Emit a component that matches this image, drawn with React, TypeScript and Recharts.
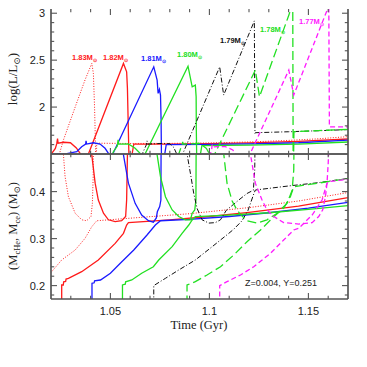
import React from 'react';
import { LineChart, Line, XAxis, YAxis } from 'recharts';

type Pt = [number, number];

// ---- axes ----
const xDomain: [number, number] = [1.02, 1.17];
const xTicks = [1.03, 1.04, 1.05, 1.06, 1.07, 1.08, 1.09, 1.1, 1.11, 1.12, 1.13, 1.14, 1.15, 1.16];
const xMajor = [1.05, 1.1, 1.15];

const lumDomain: [number, number] = [1.5, 3.045];
const lumTicks = [1.6, 1.7, 1.8, 1.9, 2, 2.1, 2.2, 2.3, 2.4, 2.5, 2.6, 2.7, 2.8, 2.9, 3];
const lumMajor = [2, 2.5, 3];

const massDomain: [number, number] = [0.1715, 0.48];
const massTicks = [0.18, 0.2, 0.22, 0.24, 0.26, 0.28, 0.3, 0.32, 0.34, 0.36, 0.38, 0.4, 0.42, 0.44, 0.46];
const massMajor = [0.2, 0.3, 0.4];

const masses = ['1.83', '1.82', '1.81', '1.80', '1.79', '1.78', '1.77'];

// ---- log(L/Lsun) vs time ----
const lum183: Pt[] = [
  [1.0234, 1.44], [1.0263, 1.65], [1.0322, 2.0], [1.0372, 2.29], [1.0406, 2.465], [1.0414, 2.36],
  [1.042, 2.0], [1.0424, 1.65], [1.0426, 1.45], [1.0429, 1.45], [1.0431, 1.615], [1.06, 1.612],
  [1.08, 1.613], [1.1, 1.618], [1.12, 1.628], [1.14, 1.645], [1.155, 1.662], [1.17, 1.685],
];
const lum182: Pt[] = [
  [1.02, 1.49], [1.0204, 1.507], [1.0222, 1.56], [1.0229, 1.61], [1.0233, 1.665], [1.0236, 1.615],
  [1.0263, 1.625], [1.0298, 1.62], [1.0328, 1.565], [1.0347, 1.507], [1.0358, 1.46], [1.038, 1.46],
  [1.0389, 1.5], [1.0566, 2.465], [1.0582, 2.376], [1.0586, 2.2], [1.0591, 1.72], [1.0594, 1.44],
  [1.0605, 1.44], [1.0618, 1.605], [1.08, 1.605], [1.1, 1.61], [1.12, 1.618], [1.145, 1.635], [1.17, 1.66],
];
const lum181: Pt[] = [
  [1.02, 1.498], [1.028, 1.505], [1.033, 1.524], [1.0355, 1.578], [1.0375, 1.605], [1.0377, 1.64],
  [1.038, 1.606], [1.0414, 1.62], [1.0448, 1.606], [1.0473, 1.561], [1.049, 1.507], [1.0498, 1.47],
  [1.0508, 1.48], [1.0512, 1.5], [1.0719, 2.429], [1.0736, 2.287], [1.0741, 2.146], [1.07475, 2.188],
  [1.0753, 2.128], [1.0756, 1.86], [1.0758, 1.44], [1.077, 1.44], [1.0782, 1.6], [1.1, 1.603],
  [1.12, 1.608], [1.145, 1.62], [1.17, 1.648],
];
const lum180: Pt[] = [
  [1.051, 1.49], [1.0515, 1.524], [1.0535, 1.585], [1.0539, 1.65], [1.0542, 1.606], [1.0591, 1.608],
  [1.0625, 1.561], [1.065, 1.507], [1.066, 1.46], [1.0668, 1.46], [1.0675, 1.5], [1.0892, 2.436],
  [1.0913, 2.216], [1.0929, 2.234], [1.0933, 2.11], [1.0934, 1.75], [1.0936, 1.44], [1.095, 1.44],
  [1.0962, 1.59], [1.12, 1.595], [1.145, 1.605], [1.17, 1.628],
];
const lum179: Pt[] = [
  [1.0655, 1.47], [1.0665, 1.52], [1.0682, 1.6], [1.0685, 1.64], [1.0688, 1.605], [1.075, 1.612],
  [1.08, 1.61], [1.082, 1.57], [1.0835, 1.5], [1.0845, 1.47], [1.0857, 1.47], [1.0865, 1.5],
  [1.1052, 2.429], [1.1072, 2.128], [1.1227, 2.918], [1.123, 1.72], [1.1232, 1.727], [1.14, 1.737],
  [1.155, 1.748], [1.17, 1.76],
];
const lum178: Pt[] = [
  [1.084, 1.47], [1.085, 1.53], [1.0862, 1.6], [1.0865, 1.63], [1.0868, 1.605], [1.095, 1.612],
  [1.0985, 1.56], [1.1, 1.5], [1.101, 1.46], [1.102, 1.47], [1.1027, 1.5], [1.1232, 2.394],
  [1.1253, 2.11], [1.1401, 2.979], [1.1421, 3.1], [1.1423, 1.44], [1.1425, 1.44], [1.1427, 1.737],
  [1.155, 1.75], [1.17, 1.762],
];
const lum177: Pt[] = [
  [1.1, 1.47], [1.1006, 1.507], [1.1012, 1.56], [1.1014, 1.6], [1.1017, 1.575], [1.1039, 1.578],
  [1.1081, 1.578], [1.1118, 1.543], [1.1131, 1.507], [1.114, 1.47], [1.1192, 1.44], [1.1401, 2.394],
  [1.1426, 2.128], [1.1594, 3.03], [1.1603, 3.1], [1.1606, 1.79], [1.165, 1.79], [1.17, 1.79],
];

// ---- M_ce (base of convective envelope) vs time ----
const mce183: Pt[] = [
  [1.0261, 0.49], [1.0263, 0.478], [1.0271, 0.432], [1.0288, 0.389], [1.0322, 0.354], [1.0355, 0.34],
  [1.038, 0.338], [1.0402, 0.347], [1.0409, 0.375], [1.0413, 0.432], [1.0414, 0.49],
];
const mce182: Pt[] = [
  [1.0404, 0.49], [1.0406, 0.478], [1.0423, 0.418], [1.0439, 0.382], [1.0465, 0.354], [1.049, 0.34],
  [1.0524, 0.336], [1.0557, 0.338], [1.0577, 0.347], [1.0582, 0.382], [1.0586, 0.478], [1.0587, 0.49],
];
const mce181: Pt[] = [
  [1.0564, 0.49], [1.0566, 0.478], [1.0591, 0.418], [1.0625, 0.375], [1.0658, 0.35], [1.0692, 0.338],
  [1.0717, 0.335], [1.0732, 0.344], [1.0737, 0.357], [1.0749, 0.368], [1.0755, 0.382], [1.0756, 0.49],
];
const mce180: Pt[] = [
  [1.0735, 0.49], [1.0736, 0.478], [1.0753, 0.432], [1.0778, 0.389], [1.0812, 0.361], [1.0845, 0.347],
  [1.0879, 0.34], [1.0904, 0.34], [1.0913, 0.354], [1.0926, 0.361], [1.0932, 0.382], [1.0933, 0.49],
];
const mce179: Pt[] = [
  [1.0887, 0.49], [1.0888, 0.478], [1.0904, 0.439], [1.0921, 0.396], [1.0938, 0.364], [1.0963, 0.34],
  [1.0997, 0.333], [1.103, 0.334], [1.1056, 0.34], [1.1085, 0.36], [1.1148, 0.382], [1.119, 0.396],
  [1.1222, 0.403], [1.1229, 0.446], [1.123, 0.49],
];
const mce178: Pt[] = [
  [1.1072, 0.49], [1.1073, 0.478], [1.1089, 0.418], [1.1115, 0.38], [1.1135, 0.364], [1.1155, 0.352],
  [1.119, 0.338], [1.1241, 0.333], [1.1291, 0.34], [1.1342, 0.354], [1.1392, 0.375], [1.1418, 0.403],
  [1.1426, 0.446], [1.1427, 0.49],
];
const mce177: Pt[] = [
  [1.1207, 0.49], [1.1208, 0.478], [1.1232, 0.418], [1.1266, 0.382], [1.1291, 0.361], [1.1325, 0.347],
  [1.1375, 0.334], [1.1451, 0.331], [1.1519, 0.334], [1.1552, 0.347], [1.1572, 0.361], [1.1586, 0.389],
  [1.1594, 0.418], [1.16, 0.46], [1.1603, 0.49],
];

// ---- M_cHe (helium core mass) vs time ----
const mche183: Pt[] = [
  [1.02, 0.228], [1.0254, 0.2545], [1.0322, 0.2757], [1.0372, 0.3006], [1.0406, 0.3253], [1.0431, 0.338],
  [1.068, 0.346], [1.09, 0.353], [1.12, 0.366], [1.145, 0.38], [1.17, 0.398],
];
const mche182: Pt[] = [
  [1.0254, 0.16], [1.0254, 0.2013], [1.0262, 0.2013], [1.0264, 0.208], [1.0274, 0.209], [1.0276, 0.214],
  [1.0288, 0.2155], [1.0355, 0.2296], [1.0439, 0.2545], [1.0524, 0.2899], [1.0566, 0.3112], [1.0582, 0.3289],
  [1.0591, 0.334], [1.08, 0.34], [1.1, 0.347], [1.12, 0.356], [1.145, 0.369], [1.17, 0.387],
];
const mche181: Pt[] = [
  [1.0407, 0.16], [1.0407, 0.205], [1.0418, 0.206], [1.042, 0.21], [1.045, 0.2119], [1.05, 0.2262],
  [1.055, 0.2474], [1.0618, 0.2757], [1.0685, 0.3077], [1.0727, 0.3289], [1.0753, 0.338], [1.09, 0.341],
  [1.11, 0.347], [1.13, 0.355], [1.15, 0.365], [1.17, 0.377],
];
const mche180: Pt[] = [
  [1.0561, 0.16], [1.0561, 0.2013], [1.0575, 0.203], [1.0577, 0.208], [1.0608, 0.212], [1.0658, 0.2262],
  [1.0717, 0.2402], [1.0744, 0.2545], [1.0812, 0.2828], [1.0862, 0.3112], [1.0896, 0.3289], [1.0913, 0.3396],
  [1.0929, 0.3466], [1.11, 0.35], [1.13, 0.355], [1.15, 0.362], [1.17, 0.37],
];
const mche179: Pt[] = [
  [1.0719, 0.16], [1.0719, 0.2], [1.0778, 0.2155], [1.0845, 0.2332], [1.0929, 0.2545], [1.1014, 0.2828],
  [1.1098, 0.3112], [1.1123, 0.32], [1.1165, 0.338], [1.1195, 0.36], [1.1224, 0.395], [1.1232, 0.4034],
  [1.14, 0.412], [1.155, 0.419], [1.17, 0.428],
];
const mche178: Pt[] = [
  [1.0887, 0.16], [1.0887, 0.2013], [1.0929, 0.2084], [1.0988, 0.2226], [1.1056, 0.2402], [1.1123, 0.2651],
  [1.119, 0.2934], [1.1258, 0.3183], [1.1325, 0.3466], [1.1375, 0.3644], [1.1409, 0.3891], [1.1426, 0.4104],
  [1.155, 0.418], [1.17, 0.428],
];
const mche177: Pt[] = [
  [1.1052, 0.16], [1.1052, 0.2], [1.1089, 0.2084], [1.1157, 0.2226], [1.1224, 0.2402], [1.1308, 0.2686],
  [1.1375, 0.2969], [1.1426, 0.3183], [1.1451, 0.322], [1.1519, 0.3502], [1.1569, 0.3821], [1.1594, 0.4177],
  [1.1603, 0.4214], [1.17, 0.426],
];

const lumSeries = [lum183, lum182, lum181, lum180, lum179, lum178, lum177];
const mceSeries = [mce183, mce182, mce181, mce180, mce179, mce178, mce177];
const mcheSeries = [mche183, mche182, mche181, mche180, mche179, mche178, mche177];

// line styles, one per mass
const styles = [
  { color: '#ff1a1a', dash: '1 1.6', width: 1 },
  { color: '#ff1a1a', dash: undefined, width: 1.3 },
  { color: '#1a1aff', dash: undefined, width: 1.3 },
  { color: '#22e022', dash: undefined, width: 1.3 },
  { color: '#111111', dash: '5 2 1 2', width: 1 },
  { color: '#22e022', dash: '9 4', width: 1.3 },
  { color: '#ff1aff', dash: '5 3', width: 1.3 },
];

// where the mass labels sit (left x, baseline y)
const labelPos = [
  [72, 60], [103, 60], [141, 61], [177, 57], [220, 43], [260, 32], [299, 24],
];

const W = 367;
const H = 367;
const AXIS = '#555';
const LEFT = 51;
const RIGHT = 19;
const SPLIT = 154;
const TOP = 9;
const BOTTOM = 299;

const rows = (pts: Pt[]) => pts.map(([t, v]) => ({ t, v }));

function isMajor(v: number, majors: number[]) {
  return majors.some((m) => Math.abs(m - v) < 1e-6);
}

function tickFor(side: 'left' | 'right' | 'top' | 'bottom', majors: number[], label: boolean) {
  return (props: any) => {
    const { x, y, payload } = props;
    const v = payload.value as number;
    const big = isMajor(v, majors);
    const len = big ? 6 : 3.2;
    let x2 = x;
    let y2 = y;
    if (side === 'left') x2 = x + len;
    if (side === 'right') x2 = x - len;
    if (side === 'top') y2 = y + len;
    if (side === 'bottom') y2 = y - len;
    return (
      <g>
        <line x1={x} y1={y} x2={x2} y2={y2} stroke={AXIS} strokeWidth={1.1} />
        {label && big && side === 'left' && (
          <text x={x - 6} y={y} dy="0.36em" textAnchor="end" fontSize={11} fill="#222"
            fontFamily="'Liberation Sans', Arial, sans-serif">{String(v)}</text>
        )}
        {label && big && side === 'bottom' && (
          <text x={x} y={y + 16} textAnchor="middle" fontSize={11} fill="#222"
            fontFamily="'Liberation Sans', Arial, sans-serif">{String(v)}</text>
        )}
      </g>
    );
  };
}

function Panel({ kind }: { kind: 'lum' | 'mass' }) {
  const isTop = kind === 'lum';
  // the axes themselves take up the space round the plot
  const topH = isTop ? TOP : SPLIT;
  const bottomH = isTop ? H - SPLIT : H - BOTTOM;
  const yDomain = isTop ? lumDomain : massDomain;
  const yTicks = isTop ? lumTicks : massTicks;
  const yMajor = isTop ? lumMajor : massMajor;
  const line = { stroke: AXIS, strokeWidth: 1.7 };

  const lines: React.ReactNode[] = [];
  styles.forEach((s, i) => {
    const sets = isTop ? [lumSeries[i]] : [mceSeries[i], mcheSeries[i]];
    sets.forEach((pts, j) => {
      lines.push(
        <Line
          key={`${kind}-${i}-${j}`}
          data={rows(pts)}
          dataKey="v"
          xAxisId="b"
          yAxisId="l"
          type="linear"
          stroke={s.color}
          strokeWidth={s.width}
          strokeDasharray={s.dash}
          dot={false}
          activeDot={false}
          isAnimationActive={false}
        />
      );
    });
  });

  return (
    <div style={{ position: 'absolute', left: 0, top: 0 }}>
      <LineChart width={W} height={H} margin={{ top: 0, right: 0, bottom: 0, left: 0 }}>
        <XAxis xAxisId="b" dataKey="t" type="number" domain={xDomain} allowDataOverflow ticks={xTicks}
          interval={0} height={bottomH} tickSize={0} tickMargin={0} tickLine={false} axisLine={line}
          tick={tickFor('bottom', xMajor, !isTop)} />
        <XAxis xAxisId="t" orientation="top" dataKey="t" type="number" domain={xDomain} allowDataOverflow
          ticks={xTicks} interval={0} height={topH} tickSize={0} tickMargin={0} tickLine={false}
          axisLine={isTop ? false : line} tick={tickFor('top', xMajor, false)} />
        <YAxis yAxisId="l" dataKey="v" type="number" domain={yDomain} allowDataOverflow ticks={yTicks}
          interval={0} width={LEFT} tickSize={0} tickMargin={0} tickLine={false} axisLine={line}
          tick={tickFor('left', yMajor, true)} />
        <YAxis yAxisId="r" orientation="right" dataKey="v" type="number" domain={yDomain} allowDataOverflow
          ticks={yTicks} interval={0} width={RIGHT} tickSize={0} tickMargin={0} tickLine={false} axisLine={line}
          tick={tickFor('right', yMajor, false)} />
        {lines}
      </LineChart>
    </div>
  );
}

const serif = "'Liberation Serif', 'DejaVu Serif', serif";
const sans = "'Liberation Sans', Arial, sans-serif";

export default function App() {
  return (
    <div style={{ position: 'absolute', left: 0, top: 0, width: W, height: H, background: '#fff' }}>
      <Panel kind="lum" />
      <Panel kind="mass" />
      <svg width={W} height={H} style={{ position: 'absolute', left: 0, top: 0, pointerEvents: 'none' }}>
        {masses.map((m, i) => (
          <text key={m} x={labelPos[i][0]} y={labelPos[i][1]} fontSize={7.5} fontWeight="bold"
            fontFamily={sans} fill={styles[i].color}>
            {m}M<tspan fontSize={5} dy={1.5}>⊙</tspan>
          </text>
        ))}
        <text transform="translate(17,79) rotate(-90)" textAnchor="middle" fontSize={13}
          fontFamily={serif} fill="#222">
          log(L/L<tspan fontSize={9} dy={3}>⊙</tspan><tspan dy={-3}>)</tspan>
        </text>
        <text transform="translate(17,226) rotate(-90)" textAnchor="middle" fontSize={12.5}
          fontFamily={serif} fill="#222">
          (M<tspan fontSize={8.5} dy={3}>cHe</tspan><tspan dy={-3}>, M</tspan>
          <tspan fontSize={8.5} dy={3}>ce</tspan><tspan dy={-3}>)  (M</tspan>
          <tspan fontSize={8.5} dy={3}>⊙</tspan><tspan dy={-3}>)</tspan>
        </text>
        <text x={199} y={329} textAnchor="middle" fontSize={12.5} fontFamily={serif} fill="#222">
          Time (Gyr)
        </text>
        <text x={281} y={286} textAnchor="middle" fontSize={9} fontFamily={sans} fill="#222">
          Z=0.004,  Y=0.251
        </text>
      </svg>
    </div>
  );
}
